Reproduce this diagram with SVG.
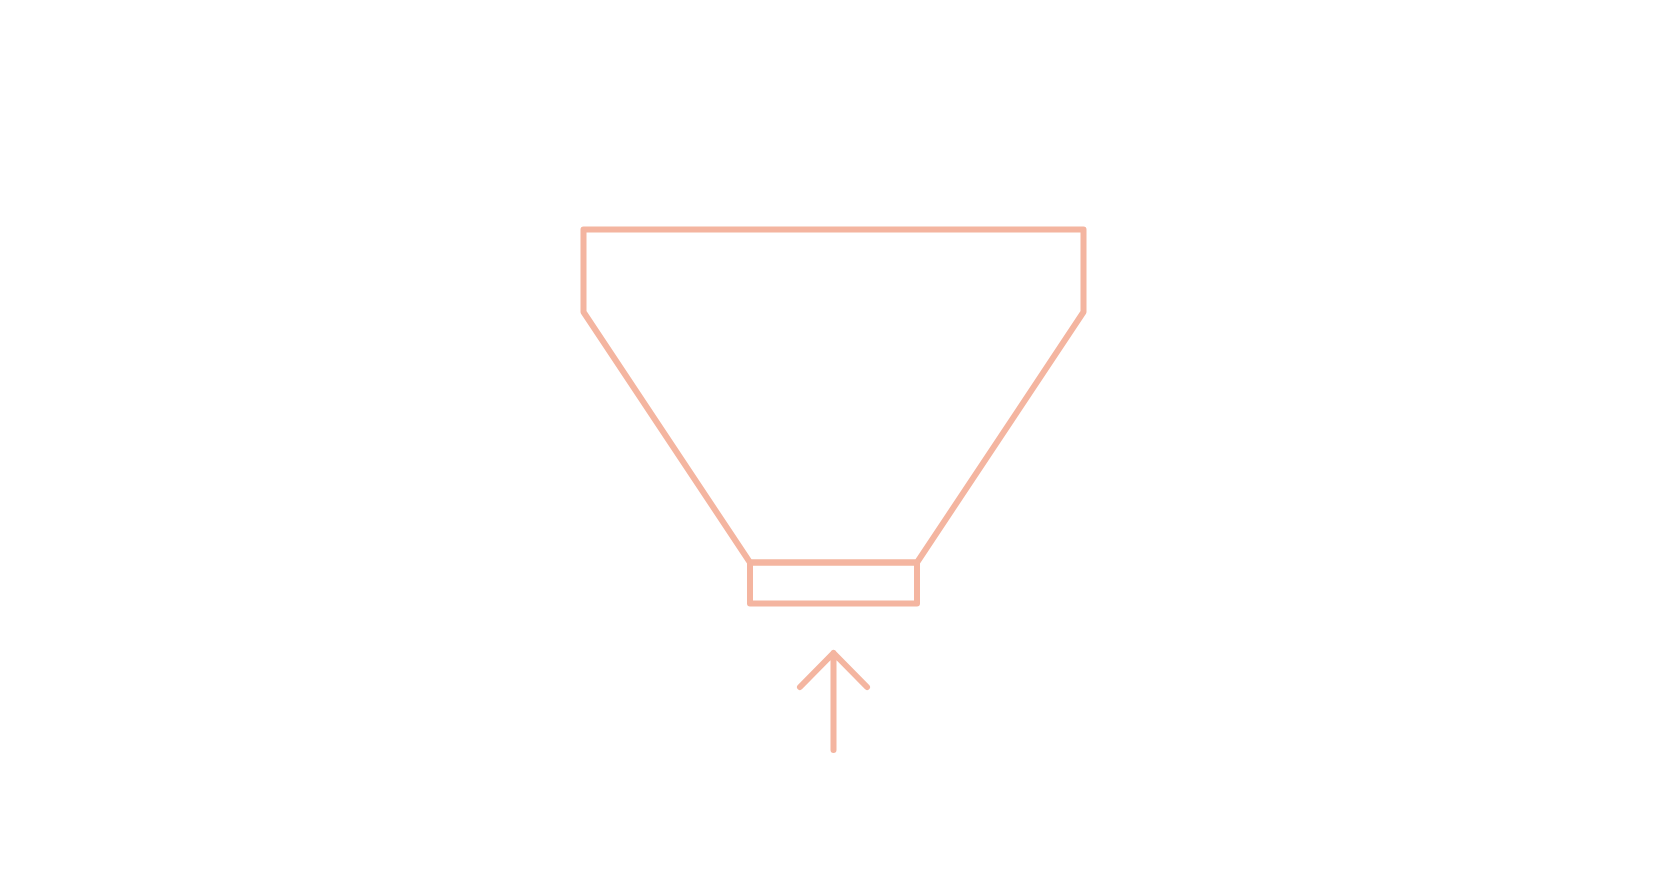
<svg xmlns="http://www.w3.org/2000/svg" width="1667" height="875" viewBox="0 0 1667 875">
<style>
.s{fill:none;stroke:#F4B5A0;stroke-width:6;stroke-linecap:round;stroke-linejoin:round}
</style>
<rect width="1667" height="875" fill="#ffffff"/>
<g id="funnel">
<path class="s" d="M583.5,229.5 L1083.5,229.5 L1083.5,312 L917,562.5 L750,562.5 L583.5,312 Z"/>
</g>
<g id="base">
<rect class="s" x="750" y="562.5" width="167" height="41"/>
</g>
<g id="connectors">
<path class="s" d="M833.5,750 L833.5,653 M800,687 L833.5,653 L867,687"/>
</g>
</svg>
